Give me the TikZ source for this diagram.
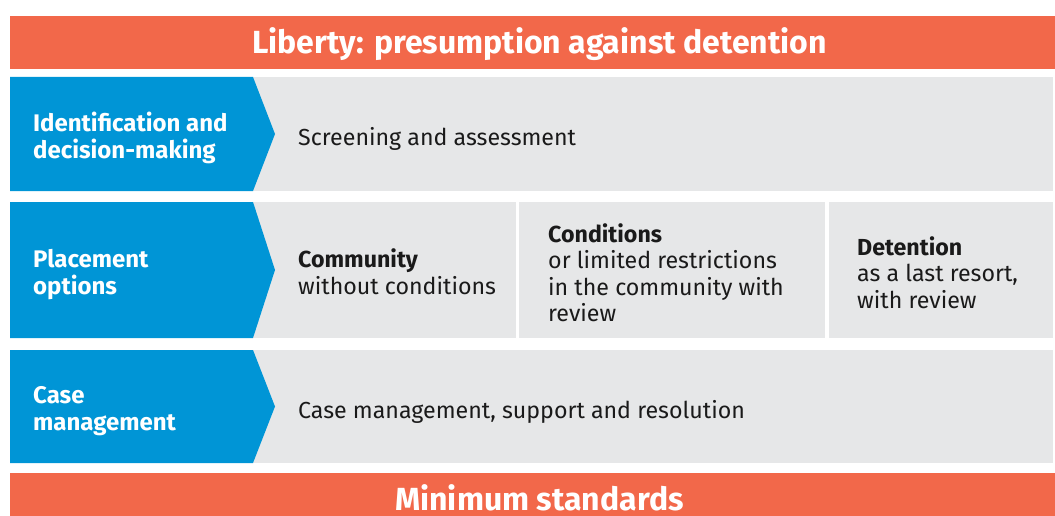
\documentclass[tikz,border=0pt]{standalone}
\usepackage{fontspec}
\setmainfont{Fira Sans}
\definecolor{orangebar}{HTML}{F2684A}
\definecolor{bluebox}{HTML}{0095D6}
\definecolor{greybox}{HTML}{E6E7E8}
\definecolor{textdark}{HTML}{1A1A1A}
\begin{document}
\begin{tikzpicture}[x=1pt,y=-1pt,
  bar/.style={fill=orangebar,draw=none},
  panel/.style={fill=greybox,draw=none},
  arrowbox/.style={fill=bluebox,draw=none},
  bartext/.style={font=\fontsize{32}{36}\selectfont\bfseries,text=white,inner sep=0pt,anchor=base},
  bluetext/.style={font=\fontsize{24}{26.5}\selectfont\bfseries,text=white,inner sep=0pt,anchor=base west,align=left},
  bodytext/.style={font=\fontsize{23.2}{26.5}\selectfont,text=textdark,inner sep=0pt,anchor=base west,align=left}]
\useasboundingbox (0,0) rectangle (1055,516);
% top bar
\fill[bar] (10,16) rectangle (1055,69);
\node[bartext] (title) at (539.5,54) {Liberty: presumption against detention};
% row 1
\fill[panel] (253,77) rectangle (1053,191);
\fill[arrowbox] (10,77) -- (253,77) -- (275,134) -- (253,191) -- (10,191) -- cycle;
\node[bluetext] (l1) at (33,158) {Identification and\\decision-making};
\node[bodytext] (b1) at (298,146) {Screening and assessment};
% row 2
\fill[panel] (253,202) rectangle (515.5,338);
\fill[panel] (519,202) rectangle (825,338);
\fill[panel] (828.5,202) rectangle (1053,338);
\fill[arrowbox] (10,202) -- (253,202) -- (275,270) -- (253,338) -- (10,338) -- cycle;
\node[bluetext] (l2) at (33,294) {Placement\\options};
\node[bodytext] (b2a) at (298,294) {\textbf{Community}\\without conditions};
\node[bodytext] (b2b) at (548,321.5) {\textbf{Conditions}\\or limited restrictions\\in the community with\\review};
\node[bodytext] (b2c) at (857,308) {\textbf{Detention}\\as a last resort,\\with review};
% row 3
\fill[panel] (253,350) rectangle (1053,463);
\fill[arrowbox] (10,350) -- (253,350) -- (275,406.5) -- (253,463) -- (10,463) -- cycle;
\node[bluetext] (l3) at (33,430) {Case\\management};
\node[bodytext] (b3) at (298,418) {Case management, support and resolution};
% bottom bar
\fill[bar] (10,473) rectangle (1055,516);
\node[bartext] (bottom) at (539.5,510) {Minimum standards};
\end{tikzpicture}
\end{document}
